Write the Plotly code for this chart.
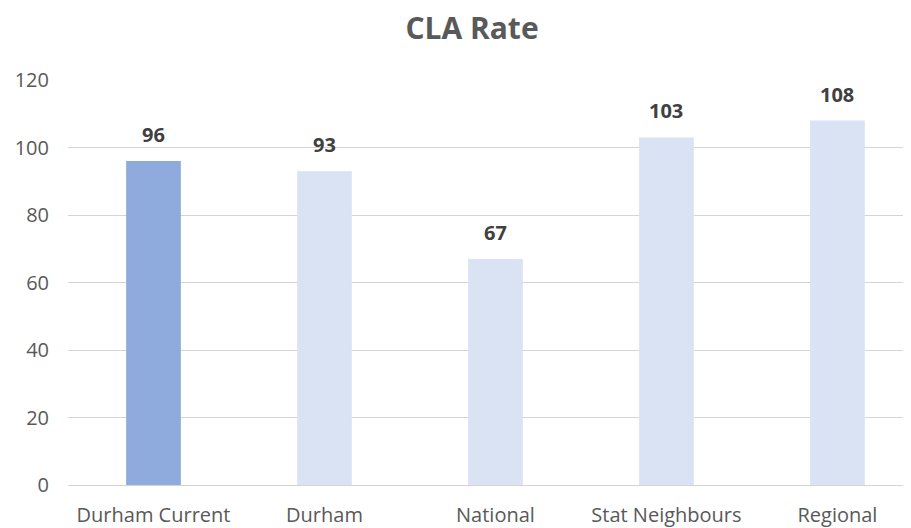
import plotly.graph_objects as go

categories = ['Durham Current', 'Durham', 'National', 'Stat Neighbours', 'Regional']
cla_rate = [96, 93, 67, 103, 108]
y_ticks = [0, 20, 40, 60, 80, 100, 120]

bar_colours = ['#8FAADC'] + ['#DAE3F3'] * (len(categories) - 1)

fig = go.Figure()
fig.add_trace(go.Bar(
    x=categories, y=cla_rate,
    marker=dict(color=bar_colours, line=dict(width=0)),
    width=0.32,
))

# data labels above each bar
for cat, val in zip(categories, cla_rate):
    fig.add_annotation(
        x=cat, y=val, text=f'<b>{val}</b>', showarrow=False,
        yanchor='bottom', yshift=11,
        font=dict(family='Open Sans', size=20, color='#404040'),
    )

fig.update_layout(
    width=911, height=528,
    margin=dict(l=60, r=0, t=72, b=51),
    plot_bgcolor='white', paper_bgcolor='white',
    showlegend=False,
    title=dict(
        text='<b>CLA Rate</b>', x=464 / 911, xanchor='center',
        y=1 - 20 / 528, yanchor='middle',
        font=dict(family='Open Sans', size=30, color='#595959'),
    ),
    xaxis=dict(
        range=[-0.5, 4.477], showgrid=False, showline=False, zeroline=False,
        tickfont=dict(family='Open Sans', size=20, color='#595959'),
        ticks='', ticklabelstandoff=16,
    ),
    yaxis=dict(
        range=[0, 120], tickvals=y_ticks, showgrid=True,
        gridcolor='#D4D4D4', gridwidth=1, zeroline=True,
        zerolinecolor='#D4D4D4', zerolinewidth=1,
        tickfont=dict(family='Open Sans', size=20, color='#595959'),
        ticks='', ticklabelstandoff=18,
    ),
)

fig.write_html('out.html')
